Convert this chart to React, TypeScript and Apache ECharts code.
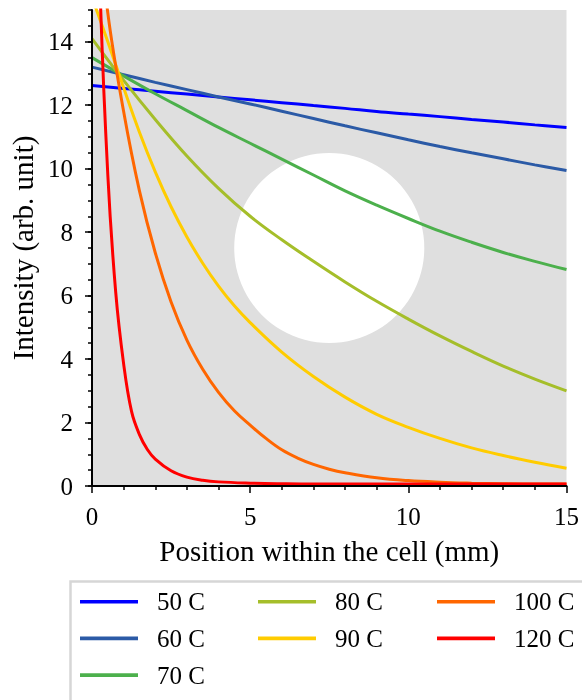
import React, { useEffect, useRef } from 'react';
import * as echarts from 'echarts';

const xUnit = [0, 1, 2, 3, 4, 5, 6, 7, 8, 9, 10, 11, 12, 13, 14, 15];
const xHalf = [0, 0.5, 1, 1.5, 2, 2.5, 3, 3.5, 4, 4.5, 5, 6, 7, 8, 9, 10, 11, 12, 13, 14, 15];
const xOrange = [0, 0.5, 1, 1.5, 2, 2.5, 3, 3.5, 4, 4.5, 5, 5.5, 6, 6.5, 7, 7.5, 8, 9, 10, 11, 12, 13, 14, 15];
const xRed = [0, 0.25, 0.5, 0.75, 1, 1.25, 1.5, 1.75, 2, 2.5, 3, 3.5, 4, 5, 6, 7, 8, 10, 12, 15];

// Intensities (arb. unit)
const t50 = [12.62, 12.53, 12.44, 12.35, 12.26, 12.17, 12.08, 11.99, 11.9, 11.8, 11.72, 11.64, 11.55, 11.47, 11.38, 11.3];
const t60 = [13.2, 12.96, 12.72, 12.49, 12.26, 12.04, 11.81, 11.58, 11.35, 11.13, 10.91, 10.7, 10.5, 10.31, 10.12, 9.94];
const t70 = [13.5, 12.92, 12.36, 11.83, 11.3, 10.8, 10.3, 9.8, 9.3, 8.85, 8.43, 8.03, 7.68, 7.36, 7.08, 6.82];
const t80 = [14.1, 12.78, 11.55, 10.4, 9.38, 8.5, 7.76, 7.08, 6.43, 5.82, 5.26, 4.73, 4.24, 3.78, 3.37, 3.0];
const t90 = [15.4, 14.0, 12.55, 11.15, 9.9, 8.8, 7.85, 7.02, 6.3, 5.68, 5.15, 4.22, 3.45, 2.8, 2.26, 1.85, 1.5, 1.2, 0.96, 0.75, 0.56];
const t100 = [19.5, 14.9, 11.8, 9.3, 7.35, 5.8, 4.6, 3.68, 2.95, 2.37, 1.92, 1.5, 1.14, 0.88, 0.68, 0.53, 0.42, 0.26, 0.17, 0.12, 0.09, 0.07, 0.06, 0.06];
const t120 = [26, 15.8, 9.8, 6.1, 3.85, 2.35, 1.62, 1.15, 0.85, 0.48, 0.28, 0.18, 0.13, 0.09, 0.07, 0.06, 0.06, 0.06, 0.06, 0.06];

const seriesNames = ['50 C', '60 C', '70 C', '80 C', '90 C', '100 C', '120 C'];
const seriesX = [xUnit, xUnit, xUnit, xUnit, xHalf, xOrange, xRed];
const seriesY = [t50, t60, t70, t80, t90, t100, t120];
const seriesColors = ['#0000ff', '#2b5aa6', '#4cb04c', '#a5be2a', '#ffcc00', '#ff6600', '#ff0000'];

const legendCols = [['50 C', '60 C', '70 C'], ['80 C', '90 C'], ['100 C', '120 C']];

const yMajor = [0, 2, 4, 6, 8, 10, 12, 14];
const xMin = 0, xMax = 15, yMin = 0, yMax = 15;

const circleCenter = [7.5, 7.5];
const circleRadius = 3;

export default function App() {
  const ref = useRef<HTMLDivElement>(null);
  useEffect(() => {
    const chart = echarts.init(ref.current!, null, { renderer: 'svg' });
    const font = 'serif';
    const W = 582;
    const gridLeft = 91.5, gridRight = 15.3, gridTop = 10, gridBottom = 214;
    const plotW = W - gridLeft - gridRight;
    const circleSize = (plotW / (xMax - xMin)) * circleRadius * 2;

    const lineSeries = seriesNames.map((name, i) => ({
      name,
      type: 'line',
      data: seriesX[i].map((x, j) => [x, seriesY[i][j]]),
      showSymbol: false,
      symbol: 'none',
      smooth: 0.4,
      color: seriesColors[i],
      lineStyle: { width: 3, color: seriesColors[i] },
      clip: true,
      z: 2,
      emphasis: { disabled: true },
    }));

    // Legend drawn as graphic elements (3 columns, column-major order)
    const colX = [80, 258, 437];
    const rowY0 = 601.7, rowStep = 36.7;
    const legendGraphics: any[] = [];
    legendCols.forEach((col, c) => {
      col.forEach((name, r) => {
        const idx = seriesNames.indexOf(name);
        const cy = rowY0 + r * rowStep;
        legendGraphics.push({
          type: 'rect',
          shape: { x: colX[c], y: cy - 1.8, width: 58, height: 3.6 },
          style: { fill: seriesColors[idx] },
          silent: true,
          z: 5,
        });
        legendGraphics.push({
          type: 'text',
          x: colX[c] + 77,
          y: cy,
          style: { text: name, fontFamily: 'Liberation Serif', fontSize: 25, fill: '#000', verticalAlign: 'middle', align: 'left' },
          silent: true,
          z: 5,
        });
      });
    });

    chart.setOption({
      animation: false,
      grid: {
        left: gridLeft,
        right: gridRight,
        top: gridTop,
        bottom: gridBottom,
        show: true,
        backgroundColor: '#dfdfdf',
        borderWidth: 0,
      },
      graphic: [
        {
          type: 'rect',
          shape: { x: 70.5, y: 581.5, width: 600, height: 200 },
          style: { fill: 'none', stroke: '#d6d6d6', lineWidth: 2.5 },
          silent: true,
          z: 0,
        },
        ...legendGraphics,
      ],
      xAxis: {
        type: 'value',
        min: xMin,
        max: xMax,
        interval: 5,
        z: 10,
        axisLine: { show: true, onZero: false, lineStyle: { color: '#000', width: 2 } },
        axisTick: { show: true, inside: false, length: 7, lineStyle: { color: '#000', width: 1.5 } },
        minorTick: { show: true, splitNumber: 5, length: 4, lineStyle: { color: '#000', width: 1.5 } },
        axisLabel: { fontFamily: font, fontSize: 25, margin: 18, color: '#000' },
        splitLine: { show: false },
        minorSplitLine: { show: false },
        name: 'Position within the cell (mm)',
        nameLocation: 'middle',
        nameGap: 50,
        nameTextStyle: { fontFamily: font, fontSize: 29, color: '#000' },
      },
      yAxis: [
        {
          type: 'value',
          min: yMin,
          max: yMax,
          interval: 0.5,
          position: 'left',
          z: 10,
          axisLine: { show: true, onZero: false, lineStyle: { color: '#000', width: 2 } },
          axisTick: { show: true, inside: false, length: 4, lineStyle: { color: '#000', width: 1.5 } },
          axisLabel: { show: false },
          splitLine: { show: false },
          name: 'Intensity (arb. unit)',
          nameLocation: 'middle',
          nameGap: 55,
          nameTextStyle: { fontFamily: font, fontSize: 29, color: '#000' },
        },
        {
          type: 'value',
          min: yMin,
          max: yMax,
          interval: 2,
          position: 'left',
          offset: 0,
          z: 10,
          axisLine: { show: false },
          axisTick: { show: true, inside: false, length: 7, customValues: yMajor, lineStyle: { color: '#000', width: 1.5 } },
          axisLabel: { customValues: yMajor, fontFamily: font, fontSize: 25, color: '#000', margin: 19 },
          splitLine: { show: false },
        },
      ],
      series: [
        {
          type: 'scatter',
          data: [circleCenter],
          symbol: 'circle',
          symbolSize: circleSize,
          itemStyle: { color: '#ffffff', opacity: 1 },
          silent: true,
          z: 1,
          emphasis: { disabled: true },
        },
        ...lineSeries,
      ],
    });
    return () => chart.dispose();
  }, []);
  return <div ref={ref} style={{ position: 'fixed', left: 0, top: 0, width: 582, height: 700 }} />;
}
